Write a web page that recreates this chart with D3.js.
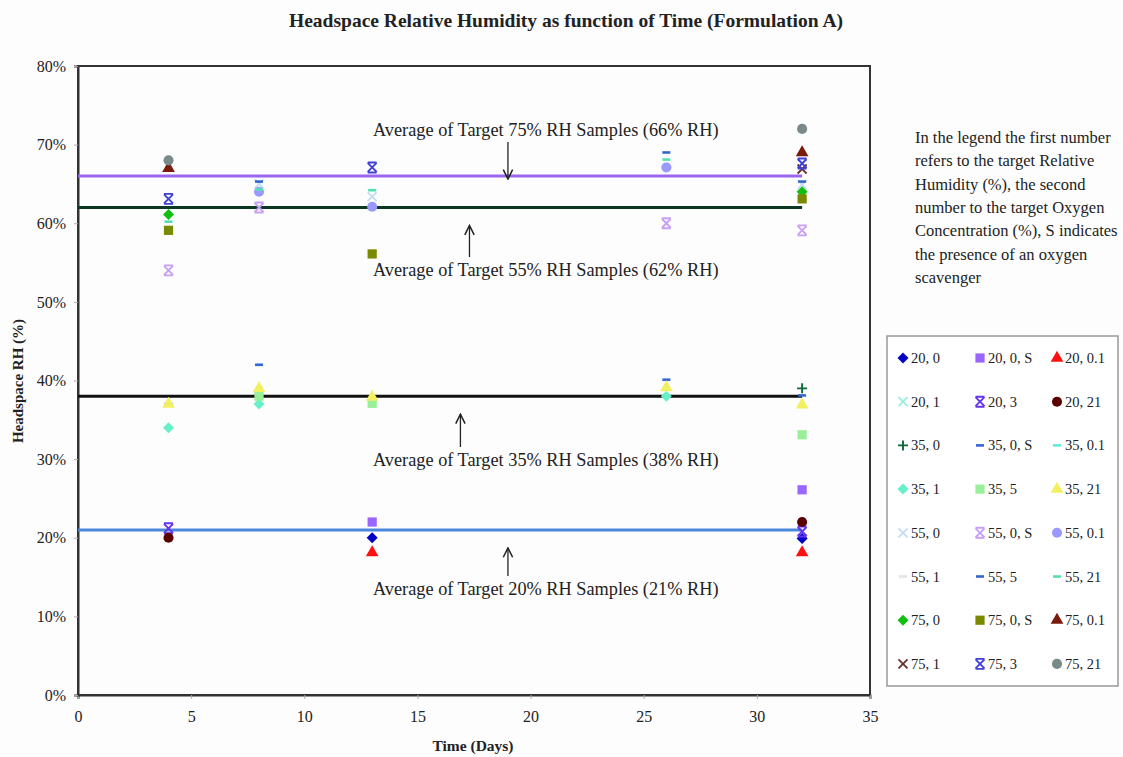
<!DOCTYPE html>
<html>
<head>
<meta charset="utf-8">
<script src="https://cdn.jsdelivr.net/npm/d3@7"></script>
<style>
body{margin:0;background:#fdfdfd;}
text{font-family:"Liberation Serif","Times New Roman",serif;fill:#222;}
</style>
</head>
<body>
<div id="chart"></div>
<script>
(function(){

var width = 1123,
	height = 757,
	margin = {left:78, top:66, right:253, bottom:62};

// sampling days
var days = [4, 8, 13, 26, 32];

// series: name, marker, colour
var names = ["20, 0","20, 0, S","20, 0.1","20, 1","20, 3","20, 21",
	"35, 0","35, 0, S","35, 0.1","35, 1","35, 5","35, 21",
	"55, 0","55, 0, S","55, 0.1","55, 1","55, 5","55, 21",
	"75, 0","75, 0, S","75, 0.1","75, 1","75, 3","75, 21"];
var shapes = ["diamond","square","triangle","x","star","circle",
	"plus","dash","dash","diamond","square","triangle",
	"x","star","circle","dash","dash","dash",
	"diamond","square","triangle","x","star","circle"];
var colors = ["#0000c8","#9966ff","#ff1010","#99eedd","#6633ee","#5a0000",
	"#0a6a3a","#3366dd","#66e8d8","#66f0c8","#99f099","#f0f060",
	"#c0dcf8","#c8a0f8","#9999ff","#e4e4e4","#3366cc","#55e0b0",
	"#10c010","#7a8a00","#7a1a0a","#6a3030","#4040d8","#7a8a8a"];

// headspace RH (%) per series at each day (null = no visible point)
var rh = [
	[null, null, 20.0, null, 19.9],
	[null, null, 22.0, null, 26.1],
	[null, null, 18.1, null, 18.1],
	[null, null, null, null, null],
	[21.2, null, null, null, 20.8],
	[20.0, null, null, null, 22.0],
	[null, null, null, null, 39.0],
	[37.0, 42.0, null, 40.1, 38.1],
	[null, null, null, null, null],
	[34.0, 37.0, null, 38.0, null],
	[null, 38.0, 37.1, null, 33.1],
	[37.0, 39.0, 37.9, 39.1, 36.9],
	[null, 65.0, 63.4, null, 64.9],
	[54.0, 62.0, null, 60.0, 59.1],
	[null, 64.0, 62.1, 67.1, null],
	[null, null, null, null, null],
	[null, 65.3, null, 69.0, 65.3],
	[60.2, 64.3, 64.2, 68.1, null],
	[61.1, null, null, null, 64.0],
	[59.1, null, 56.1, null, 63.1],
	[67.0, null, null, null, 69.0],
	[null, null, null, null, 66.9],
	[63.1, null, 67.1, null, 67.6],
	[68.0, null, null, null, 72.0]
];

// average lines
var avgValues = [66, 62, 38, 21];
var avgColors = ["#9a66f0","#0a3a22","#111111","#4a88e0"];
var avgLabels = ["Average of Target 75% RH Samples (66% RH)",
	"Average of Target 55% RH Samples (62% RH)",
	"Average of Target 35% RH Samples (38% RH)",
	"Average of Target 20% RH Samples (21% RH)"];
var labelY = [136, 276, 466, 595];   // text baselines (px)
var arrowX = [19, 17.3, 16.9, 19];   // day position of arrows
var arrowDir = ["down","up","up","up"];

var xTicks = [0,5,10,15,20,25,30,35];
var yTicks = [0,10,20,30,40,50,60,70,80];

var note = ["In the legend the first number","refers to the target Relative",
	"Humidity (%), the second","number to the target Oxygen",
	"Concentration (%), S indicates","the presence of an oxygen","scavenger"];

var svg = d3.select("#chart").append("svg")
	.attr("width",width)
	.attr("height",height);

var X = d3.scaleLinear().domain([0,35]).range([margin.left, width-margin.right]);
var Y = d3.scaleLinear().domain([0,80]).range([height-margin.bottom, margin.top]);

// title
svg.append("text")
	.attr("x",566).attr("y",27)
	.attr("text-anchor","middle")
	.style("font-weight","bold").style("font-size","19.5px")
	.text("Headspace Relative Humidity as function of Time (Formulation A)");

// frame
svg.append("rect")
	.attr("x",X(0)).attr("y",Y(80))
	.attr("width",X(35)-X(0)).attr("height",Y(0)-Y(80))
	.attr("fill","none").attr("stroke","#333").attr("stroke-width",2);

var xAxis = svg.append("g")
	.attr("transform","translate(0,"+Y(0)+")")
	.call(d3.axisBottom(X).tickValues(xTicks).tickSize(4).tickPadding(12).tickFormat(d3.format("d")));
var yAxis = svg.append("g")
	.attr("transform","translate("+X(0)+",0)")
	.call(d3.axisLeft(Y).tickValues(yTicks).tickSize(4).tickPadding(8).tickFormat(function(d){return d+"%"}));
[xAxis,yAxis].forEach(function(a){
	a.select(".domain").attr("stroke","#333").attr("stroke-width",2);
	a.selectAll(".tick line").attr("stroke","#aaa");
	a.selectAll("text").style("font-size","16px").style("font-family","Liberation Serif").attr("fill","#222");
});

svg.append("text")
	.attr("x",473).attr("y",751)
	.attr("text-anchor","middle")
	.style("font-weight","bold").style("font-size","15.5px")
	.text("Time (Days)");
svg.append("text")
	.attr("transform","translate(23,381) rotate(-90)")
	.attr("text-anchor","middle")
	.style("font-weight","bold").style("font-size","15px")
	.text("Headspace RH (%)");

// average lines
svg.selectAll(".avg").data(avgValues).enter().append("line")
	.attr("class","avg")
	.attr("x1",X(0)).attr("x2",X(32))
	.attr("y1",function(d){return Y(d)}).attr("y2",function(d){return Y(d)})
	.attr("stroke",function(d,i){return avgColors[i]})
	.attr("stroke-width",3);

// markers
var sym = {
	square: d3.symbol().type(d3.symbolSquare).size(85),
	triangle: d3.symbol().type(d3.symbolTriangle).size(70),
	circle: d3.symbol().type(d3.symbolCircle).size(80)
};
function marker(sel, shape, color){
	if (sym[shape]) {
		sel.append("path").attr("d",sym[shape]()).attr("fill",color);
	} else if (shape=="diamond") {
		sel.append("path").attr("d","M0,-5.5L5.5,0L0,5.5L-5.5,0Z").attr("fill",color);
	} else if (shape=="x") {
		sel.append("path").attr("d","M-4.5,-4.5L4.5,4.5M-4.5,4.5L4.5,-4.5")
			.attr("stroke",color).attr("stroke-width",1.8).attr("fill","none");
	} else if (shape=="star") {
		sel.append("path").attr("d","M-4.5,-4.5L4.5,4.5M-4.5,4.5L4.5,-4.5M-4.5,-5L4.5,-5M-4.5,5L4.5,5")
			.attr("stroke",color).attr("stroke-width",1.9).attr("fill","none");
	} else if (shape=="plus") {
		sel.append("path").attr("d","M-5,0L5,0M0,-5L0,5")
			.attr("stroke",color).attr("stroke-width",1.9).attr("fill","none");
	} else if (shape=="dash") {
		sel.append("path").attr("d","M-4,0L4,0")
			.attr("stroke",color).attr("stroke-width",2.6).attr("fill","none");
	}
}

names.forEach(function(n,i){
	var pts = days.map(function(d,j){return {day:d, v:rh[i][j]}})
		.filter(function(p){return p.v!==null});
	svg.selectAll(".pt"+i).data(pts).enter().append("g")
		.attr("class","pt"+i)
		.attr("transform",function(p){return "translate("+X(p.day)+","+Y(p.v)+")"})
		.each(function(){marker(d3.select(this), shapes[i], colors[i])});
});

// annotations
var defs = svg.append("defs");
defs.append("marker").attr("id","arrow")
	.attr("viewBox","0 0 10 10").attr("refX",9).attr("refY",5)
	.attr("markerWidth",9).attr("markerHeight",9).attr("orient","auto")
	.append("path").attr("d","M1,1L9,5L1,9").attr("fill","none").attr("stroke","#222").attr("stroke-width",1.3);

avgLabels.forEach(function(t,i){
	svg.append("text")
		.attr("x",373).attr("y",labelY[i])
		.style("font-size","18.3px")
		.text(t);
	var y0 = arrowDir[i]=="down" ? labelY[i]+6 : labelY[i]-19,
		y1 = arrowDir[i]=="down" ? Y(avgValues[i])+3 : Y(avgValues[i])+18;
	svg.append("line")
		.attr("x1",X(arrowX[i])).attr("x2",X(arrowX[i]))
		.attr("y1",y0).attr("y2",y1)
		.attr("stroke","#222").attr("stroke-width",1.3)
		.attr("marker-end","url(#arrow)");
});

// note text
svg.selectAll(".note").data(note).enter().append("text")
	.attr("class","note")
	.attr("x",915).attr("y",function(d,i){return 143+i*23.3})
	.style("font-size","16.5px")
	.text(function(d){return d});

// legend
var lg = svg.append("g");
lg.append("rect")
	.attr("x",887).attr("y",336).attr("width",231).attr("height",350)
	.attr("fill","#fff").attr("stroke","#999").attr("stroke-width",1.5);
names.forEach(function(n,i){
	var col = i%3, row = Math.floor(i/3);
	var g = lg.append("g").attr("transform","translate("+(903+col*77)+","+(358+row*43.7)+")");
	marker(g, shapes[i], colors[i]);
	g.append("text").attr("x",8).attr("y",5)
		.style("font-size","14.5px")
		.text(n);
});

})()
</script>
</body>
</html>
